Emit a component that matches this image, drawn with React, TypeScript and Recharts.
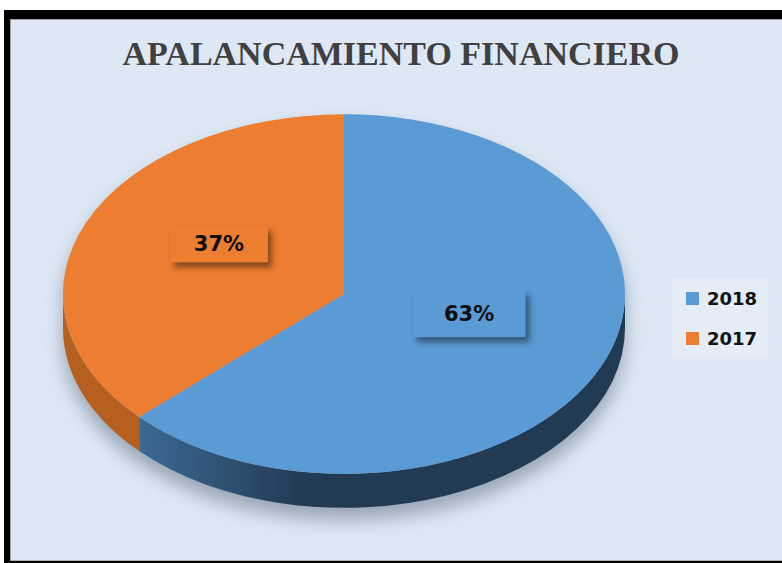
import { PieChart, Pie, Cell, Legend } from "recharts";

const years = ["2018", "2017"];
const shares = [63, 37];
const sliceColors = ["#5b9bd5", "#ed7d31"];
const sideColors = [
  ["#3d6d9a", "#223b54"],
  ["#b5601f", "#9a4c16"],
];
const labelBoxes = [
  [113, 47],
  [98, 36],
];

const chartData = years.map((year, i) => ({ name: year, value: shares[i] }));

const TILT = 0.64; // vertical squash of the top face
const DEPTH = 34; // thickness of the 3d side
const LABEL_POS = 0.485;
const LABEL_LIFT = 15;

function pt(cx: number, cy: number, rx: number, ry: number, deg: number) {
  const r = (deg * Math.PI) / 180;
  return [cx + rx * Math.cos(r), cy - ry * Math.sin(r)];
}

function Slice3D(props: any) {
  const { cx, cy, outerRadius, startAngle, endAngle, index } = props;
  const rx = outerRadius;
  const ry = outerRadius * TILT;
  const fill = sliceColors[index];
  const hi = Math.max(startAngle, endAngle);
  const lo = Math.min(startAngle, endAngle);

  const [x1, y1] = pt(cx, cy, rx, ry, hi);
  const [x2, y2] = pt(cx, cy, rx, ry, lo);
  const large = hi - lo > 180 ? 1 : 0;
  const top = `M${cx},${cy} L${x1},${y1} A${rx},${ry} 0 ${large} 1 ${x2},${y2} Z`;

  // front half of the rim is visible: angles in [-180, 0] (mod 360)
  const sides: string[] = [];
  for (let k = -2; k <= 1; k++) {
    const a = Math.max(lo, -180 + 360 * k);
    const b = Math.min(hi, 360 * k);
    if (b - a > 0.01) {
      const [sx, sy] = pt(cx, cy, rx, ry, b);
      const [ex, ey] = pt(cx, cy, rx, ry, a);
      sides.push(
        `M${sx},${sy} A${rx},${ry} 0 0 1 ${ex},${ey} L${ex},${ey + DEPTH} A${rx},${ry} 0 0 0 ${sx},${sy + DEPTH} Z`
      );
    }
  }

  const gradId = `side-grad-${index}`;
  return (
    <g>
      <defs>
        <linearGradient
          id={gradId}
          gradientUnits="userSpaceOnUse"
          x1={cx - rx * 0.78}
          y1={0}
          x2={cx - rx * 0.15}
          y2={0}
        >
          <stop offset="0%" stopColor={sideColors[index][0]} />
          <stop offset="100%" stopColor={sideColors[index][1]} />
        </linearGradient>
      </defs>
      {sides.map((d, i) => (
        <path key={i} d={d} fill={`url(#${gradId})`} />
      ))}
      <path d={top} fill={fill} />
    </g>
  );
}

function PercentLabel(props: any) {
  const { cx, cy, midAngle, outerRadius, percent, index } = props;
  const rad = (midAngle * Math.PI) / 180;
  const x = cx + outerRadius * LABEL_POS * Math.cos(rad);
  const y = cy - outerRadius * TILT * LABEL_POS * Math.sin(rad) - LABEL_LIFT;
  const [w, h] = labelBoxes[index];
  return (
    <g>
      <rect
        x={x - w / 2}
        y={y - h / 2}
        width={w}
        height={h}
        fill={sliceColors[index]}
        style={{ filter: "drop-shadow(4px 5px 3px rgba(0,0,0,0.45))" }}
      />
      <text
        x={x}
        y={y}
        textAnchor="middle"
        dominantBaseline="central"
        fill="#0d0d0d"
        style={{ fontFamily: "DejaVu Sans", fontWeight: 700, fontSize: 21 }}
      >
        {`${Math.round(percent * 100)}%`}
      </text>
    </g>
  );
}

function LegendBox({ payload }: any) {
  const items = [...(payload || [])].sort(
    (a: any, b: any) => years.indexOf(a.value) - years.indexOf(b.value)
  );
  return (
    <div style={{ background: "#e4ecf6", width: 96, height: 81 }}>
      {items.map((entry: any) => (
        <div
          key={entry.value}
          style={{ display: "flex", alignItems: "center", height: 40.5 }}
        >
          <span
            style={{
              display: "inline-block",
              width: 13,
              height: 13,
              background: entry.color,
              marginLeft: 14,
              marginRight: 8,
            }}
          />
          <span
            style={{
              fontFamily: "DejaVu Sans",
              fontWeight: 700,
              fontSize: 18,
              color: "#111",
            }}
          >
            {entry.value}
          </span>
        </div>
      ))}
    </div>
  );
}

export default function App() {
  return (
    <div
      style={{
        position: "absolute",
        left: 0,
        top: 0,
        width: 782,
        height: 563,
        background: "#fff",
        overflow: "hidden",
      }}
    >
      <style>{`.recharts-pie { filter: drop-shadow(0px 12px 9px rgba(85,100,120,0.5)); }`}</style>
      {/* black frame */}
      <div
        style={{
          position: "absolute",
          left: 4,
          top: 10,
          width: 778,
          height: 553,
          background: "#000",
        }}
      />
      <div
        style={{
          position: "absolute",
          left: 10,
          top: 19,
          width: 772,
          height: 542,
          background: "#dde8f4",
          borderLeft: "1px solid #9c9c9c",
          borderTop: "1px solid #9c9c9c",
          borderBottom: "1px solid #b0b0b0",
          boxSizing: "border-box",
        }}
      />
      <div
        style={{
          position: "absolute",
          left: 22,
          top: 37,
          width: 758,
          textAlign: "center",
          fontFamily: "Liberation Serif",
          fontWeight: 700,
          fontSize: 34,
          lineHeight: "34px",
          color: "#404040",
          whiteSpace: "nowrap",
        }}
      >
        APALANCAMIENTO FINANCIERO
      </div>
      <div style={{ position: "absolute", left: 0, top: 0 }}>
        <PieChart
          width={782}
          height={563}
          margin={{ top: 0, right: 0, bottom: 0, left: 0 }}
        >
          <Pie
            data={chartData}
            dataKey="value"
            nameKey="name"
            cx={344}
            cy={294}
            outerRadius={281}
            startAngle={90}
            endAngle={-270}
            stroke="none"
            shape={Slice3D}
            label={PercentLabel}
            labelLine={false}
            isAnimationActive={false}
          >
            {chartData.map((d, i) => (
              <Cell key={d.name} fill={sliceColors[i]} />
            ))}
          </Pie>
          <Legend
            content={LegendBox}
            wrapperStyle={{ position: "absolute", left: 672, top: 278, width: 96, height: 81 }}
          />
        </PieChart>
      </div>
    </div>
  );
}
